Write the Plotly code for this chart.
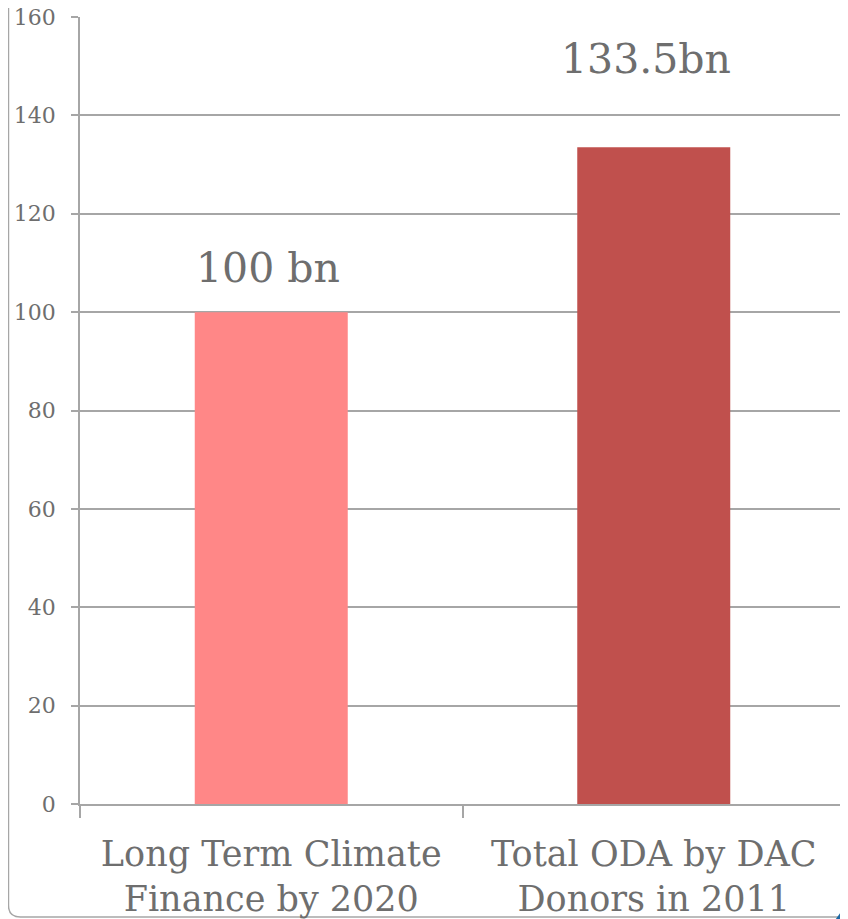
import plotly.graph_objects as go

categories = ["Long Term Climate<br>Finance by 2020", "Total ODA by DAC<br>Donors in 2011"]
values = [100, 133.5]
bar_labels = ["100 bn", "133.5bn"]
bar_colors = ["#ff8787", "#c0504d"]
label_yshift = [18, 62]
label_xshift = [-3, -8]
y_ticks = [0, 20, 40, 60, 80, 100, 120, 140, 160]

FONT = "DejaVu Serif"
TXT = "#6e6e6e"
LINE = "#a6a6a6"

fig = go.Figure()
fig.add_trace(go.Bar(x=categories, y=values, marker=dict(color=bar_colors, line=dict(width=0)),
                     width=0.4, hoverinfo="skip"))

for c, v, t, ys, xs in zip(categories, values, bar_labels, label_yshift, label_xshift):
    fig.add_annotation(x=c, y=v, text=t, showarrow=False, yanchor="bottom",
                       yshift=ys, xshift=xs, font=dict(family=FONT, size=41, color=TXT))

fig.update_layout(
    width=848, height=919,
    margin=dict(l=72, r=11, t=9, b=123, autoexpand=False),
    paper_bgcolor="white", plot_bgcolor="white",
    showlegend=False,
    bargap=0.6,
    xaxis=dict(showline=True, linecolor=LINE, linewidth=1.5, ticks="outside",
               tickson="boundaries", ticklen=12, tickcolor=LINE, tickwidth=1.5,
               tickfont=dict(family=FONT, size=35, color=TXT), showgrid=False,
               ticklabelstandoff=18, ticklabeloverflow="allow", automargin=False),
    yaxis=dict(range=[0, 160], tickvals=y_ticks, showline=True, linecolor=LINE, linewidth=1.5,
               ticks="outside", ticklen=7, tickcolor=LINE, tickwidth=1.5,
               showgrid=True, gridcolor=LINE, gridwidth=1.5, zeroline=False,
               tickfont=dict(family=FONT, size=22, color=TXT), ticklabelstandoff=11,
               ticklabeloverflow="allow", automargin=False),
)

# slide frame: left and bottom border with rounded corner, blue corner accent
fig.add_shape(type="path", xref="paper", yref="paper", layer="below",
              path="M -0.0935,1.0114 L -0.0935,-0.1283 Q -0.0935,-0.1436 -0.0778,-0.1436 L 1.0039,-0.1436",
              line=dict(color=LINE, width=1.5))
fig.add_shape(type="path", xref="paper", yref="paper",
              path="M 0.9880,-0.1461 L 1.0039,-0.1245 L 1.0039,-0.1461 Z",
              fillcolor="#1f6aa5", line=dict(width=0))

fig.write_html("out.html")
